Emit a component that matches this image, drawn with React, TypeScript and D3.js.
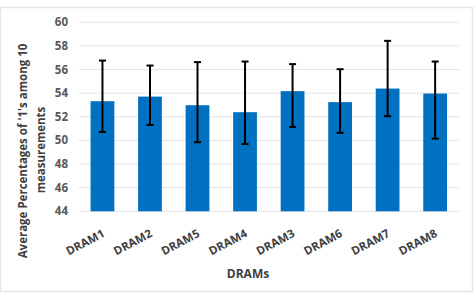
import React from "react";
import * as d3 from "d3";

const categories = ["DRAM1", "DRAM2", "DRAM5", "DRAM4", "DRAM3", "DRAM6", "DRAM7", "DRAM8"];
const means = [53.32, 53.71, 52.98, 52.39, 54.17, 53.24, 54.39, 53.97];
const errHigh = [56.76, 56.34, 56.63, 56.68, 56.46, 56.03, 58.43, 56.68];
const errLow = [50.72, 51.31, 49.85, 49.7, 51.14, 50.64, 52.05, 50.15];
const yTicks = [44, 46, 48, 50, 52, 54, 56, 58, 60];
const yTitle1 = "Average Percentages of '1's among 10";
const yTitle2 = "measurements";
const xTitle = "DRAMs";

const W = 476;
const H = 294;
const left = 78.7;
const right = 458.9;
const top = 22.3;
const bottom = 211.3;

export default function App() {
  const x = d3.scaleBand<string>().domain(categories).range([left, right]).paddingInner(0.5).paddingOuter(0.25);
  const y = d3.scaleLinear().domain([44, 60]).range([bottom, top]);
  const bw = x.bandwidth();
  const font = "'Open Sans', 'DejaVu Sans', sans-serif";
  return (
    <svg width={W} height={H} style={{ position: "absolute", left: 0, top: 0, background: "#fff" }}>
      <rect x={0.5} y={7.5} width={472} height={284} fill="#fff" stroke="#e6e6e6" strokeWidth={1.5} />
      {yTicks.map((t) => (
        <g key={t}>
          <line x1={left} x2={right} y1={y(t)} y2={y(t)} stroke="#e3e3e3" strokeWidth={1} />
          <text x={68} y={y(t)} dy="0.35em" textAnchor="end" fontFamily={font} fontWeight="bold" fontSize={11.5} fill="#595959">
            {t}
          </text>
        </g>
      ))}
      {categories.map((c, i) => {
        const cx = (x(c) as number) + bw / 2;
        return (
          <g key={c}>
            <rect x={x(c)} y={y(means[i])} width={bw} height={y(44) - y(means[i])} fill="#0070C0" />
            <line x1={cx} x2={cx} y1={y(errHigh[i])} y2={y(errLow[i])} stroke="#000" strokeWidth={2} />
            <line x1={cx - 3.5} x2={cx + 3.5} y1={y(errHigh[i])} y2={y(errHigh[i])} stroke="#000" strokeWidth={2} />
            <line x1={cx - 3.5} x2={cx + 3.5} y1={y(errLow[i])} y2={y(errLow[i])} stroke="#000" strokeWidth={2} />
            <text
              transform={`translate(${cx + 3},${236}) rotate(-28)`}
              textAnchor="end"
              fontFamily={font}
              fontWeight="bold"
              fontSize={11.5}
              fill="#404040"
            >
              {c}
            </text>
          </g>
        );
      })}
      <text x={248} y={278} textAnchor="middle" fontFamily={font} fontWeight="bold" fontSize={12} fill="#404040">
        {xTitle}
      </text>
      <text transform={`translate(27,151) rotate(-90)`} textAnchor="middle" fontFamily={font} fontWeight="bold" fontSize={11.5} fill="#404040">
        {yTitle1}
      </text>
      <text transform={`translate(45,150) rotate(-90)`} textAnchor="middle" fontFamily={font} fontWeight="bold" fontSize={11.5} fill="#404040">
        {yTitle2}
      </text>
    </svg>
  );
}
